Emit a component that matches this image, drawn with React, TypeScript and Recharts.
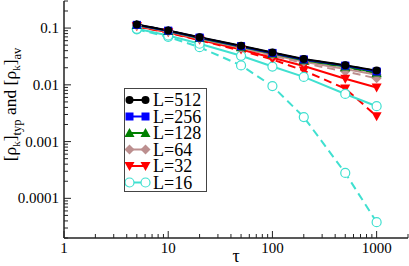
import React from 'react';
import { LineChart, Line, XAxis, YAxis, Legend } from 'recharts';

const TAU = [5, 10, 20, 50, 100, 200, 500, 1000];

const L512_TYP = [0.116, 0.091, 0.069, 0.049, 0.037, 0.0285, 0.0222, 0.0178];
const L512_AV = [0.115, 0.09, 0.068, 0.048, 0.0365, 0.028, 0.022, 0.0175];
const L256_TYP = [0.114, 0.09, 0.068, 0.048, 0.0365, 0.028, 0.0218, 0.0172];
const L256_AV = [0.113, 0.089, 0.067, 0.047, 0.036, 0.0275, 0.0213, 0.0168];
const L128_TYP = [0.113, 0.089, 0.067, 0.047, 0.0355, 0.027, 0.021, 0.0165];
const L128_AV = [0.112, 0.088, 0.066, 0.046, 0.035, 0.0265, 0.0205, 0.016];
const L64_TYP = [0.111, 0.087, 0.065, 0.045, 0.034, 0.0255, 0.019, 0.015];
const L64_AV = [0.11, 0.086, 0.064, 0.044, 0.033, 0.024, 0.0172, 0.013];
const L32_TYP = [0.108, 0.084, 0.062, 0.042, 0.03, 0.0215, 0.0128, 0.009];
const L32_AV = [0.107, 0.083, 0.061, 0.04, 0.028, 0.0178, 0.0086, 0.0028];
const L16_TYP = [0.097, 0.074, 0.053, 0.0325, 0.021, 0.0138, 0.0069, 0.0042];
const L16_AV = [0.095, 0.07, 0.046, 0.022, 0.0095, 0.0027, 0.00028, 0.000038];

const SERIES_NAMES = ['L=512', 'L=256', 'L=128', 'L=64', 'L=32', 'L=16'];

const X_MAJOR = [1, 10, 100, 1000];
const X_MINOR = [2, 3, 4, 5, 6, 7, 8, 9, 20, 30, 40, 50, 60, 70, 80, 90, 200, 300, 400, 500, 600, 700, 800, 900, 2000];
const Y_MAJOR = [0.0001, 0.001, 0.01, 0.1];
const Y_MINOR = [
  0.00002, 0.00003, 0.00004, 0.00005, 0.00006, 0.00007, 0.00008, 0.00009,
  0.0002, 0.0003, 0.0004, 0.0005, 0.0006, 0.0007, 0.0008, 0.0009,
  0.002, 0.003, 0.004, 0.005, 0.006, 0.007, 0.008, 0.009,
  0.02, 0.03, 0.04, 0.05, 0.06, 0.07, 0.08, 0.09,
  0.2, 0.3,
];

const X_DOMAIN = [1, 2000];
const Y_DOMAIN = [0.00002, 0.3];

const SERIES = [
  { key: 'L16', name: SERIES_NAMES[5], color: '#40e0d0', shape: 'open', typ: L16_TYP, av: L16_AV },
  { key: 'L32', name: SERIES_NAMES[4], color: '#ff0000', shape: 'triDown', typ: L32_TYP, av: L32_AV },
  { key: 'L64', name: SERIES_NAMES[3], color: '#bc8f8f', shape: 'diamond', typ: L64_TYP, av: L64_AV },
  { key: 'L128', name: SERIES_NAMES[2], color: '#008000', shape: 'triUp', typ: L128_TYP, av: L128_AV },
  { key: 'L256', name: SERIES_NAMES[1], color: '#0000ff', shape: 'square', typ: L256_TYP, av: L256_AV },
  { key: 'L512', name: SERIES_NAMES[0], color: '#000000', shape: 'circle', typ: L512_TYP, av: L512_AV },
];

const rows = TAU.map((t, i) => {
  const r: any = { tau: t };
  SERIES.forEach((s) => {
    r[s.key + '_typ'] = s.typ[i];
    r[s.key + '_av'] = s.av[i];
  });
  return r;
});

const FONT = 'Liberation Serif';
const TXT = { fontFamily: FONT };
const AXIS_COLOR = '#222';

function Marker({ cx, cy, shape, color }: any) {
  if (cx == null || cy == null) return null;
  switch (shape) {
    case 'circle':
      return <circle cx={cx} cy={cy} r={4} fill={color} />;
    case 'square':
      return <rect x={cx - 4} y={cy - 4} width={8} height={8} fill={color} />;
    case 'triUp':
      return <polygon points={`${cx},${cy - 5} ${cx + 5},${cy + 4} ${cx - 5},${cy + 4}`} fill={color} />;
    case 'diamond':
      return <polygon points={`${cx},${cy - 5} ${cx + 5},${cy} ${cx},${cy + 5} ${cx - 5},${cy}`} fill={color} />;
    case 'triDown':
      return <polygon points={`${cx - 5},${cy - 4} ${cx + 5},${cy - 4} ${cx},${cy + 5}`} fill={color} />;
    case 'open':
    default:
      return <circle cx={cx} cy={cy} r={4.5} fill="#fff" stroke={color} strokeWidth={1.2} />;
  }
}

const isMajor = (v: number, majors: number[]) => majors.some((m) => Math.abs(m - v) / m < 1e-6);

function BottomTick({ x, y, payload }: any) {
  const major = isMajor(payload.value, X_MAJOR);
  return (
    <g>
      <line x1={x} y1={y} x2={x} y2={y - (major ? 7 : 4)} stroke={AXIS_COLOR} strokeWidth={1} />
      {major && (
        <text x={x} y={y + 15} textAnchor="middle" style={TXT} fontSize={15} fill="#000">
          {String(payload.value)}
        </text>
      )}
    </g>
  );
}

function TopTick({ x, y, payload }: any) {
  const major = isMajor(payload.value, X_MAJOR);
  return <line x1={x} y1={y} x2={x} y2={y + (major ? 7 : 4)} stroke={AXIS_COLOR} strokeWidth={1} />;
}

function LeftTick({ x, y, payload }: any) {
  const major = isMajor(payload.value, Y_MAJOR);
  return (
    <g>
      <line x1={x} y1={y} x2={x + (major ? 7 : 4)} y2={y} stroke={AXIS_COLOR} strokeWidth={1} />
      {major && (
        <text x={x - 5} y={y + 5} textAnchor="end" style={TXT} fontSize={15} fill="#000">
          {String(payload.value)}
        </text>
      )}
    </g>
  );
}

function RightTick({ x, y, payload }: any) {
  const major = isMajor(payload.value, Y_MAJOR);
  return <line x1={x} y1={y} x2={x - (major ? 7 : 4)} y2={y} stroke={AXIS_COLOR} strokeWidth={1} />;
}

function YLabel(props: any) {
  const vb = props.viewBox || { x: 0, y: 0, width: 64, height: 237 };
  const cx = vb.x + 16;
  const cy = vb.y + vb.height / 2 - 15;
  return (
    <text
      x={cx}
      y={cy}
      transform={`rotate(-90 ${cx} ${cy})`}
      textAnchor="middle"
      style={TXT}
      fontSize={17.5}
      fill="#000"
    >
      <tspan>[ρ</tspan>
      <tspan fontSize={11} dy={4}>k</tspan>
      <tspan dy={-4}>]</tspan>
      <tspan fontSize={12.5} dy={5}>typ</tspan>
      <tspan dy={-5}> and [ρ</tspan>
      <tspan fontSize={11} dy={4}>k</tspan>
      <tspan dy={-4}>]</tspan>
      <tspan fontSize={12.5} dy={5}>av</tspan>
    </text>
  );
}

function XLabel(props: any) {
  const vb = props.viewBox || { x: 64, y: 238, width: 344, height: 28 };
  return (
    <text x={vb.x + vb.width / 2} y={vb.y + 24} textAnchor="middle" style={TXT} fontSize={18} fill="#000">
      τ
    </text>
  );
}

const LEGEND_ORDER = [...SERIES].reverse();

function LegendBox() {
  const rowH = 16.5;
  return (
    <div style={{ width: 83, height: 104, border: '1px solid #444', background: '#fff', boxSizing: 'border-box' }}>
      <svg width={81} height={102} style={{ display: 'block' }}>
        {LEGEND_ORDER.map((s, i) => {
          const cy = 11 + i * rowH;
          return (
            <g key={s.key}>
              <line x1={4} y1={cy} x2={21} y2={cy} stroke={s.color} strokeWidth={2} />
              <Marker cx={4.5} cy={cy} shape={s.shape} color={s.color} />
              <Marker cx={20.5} cy={cy} shape={s.shape} color={s.color} />
              <text x={28} y={cy + 6} style={TXT} fontSize={18} fill="#000">
                {s.name}
              </text>
            </g>
          );
        })}
      </svg>
    </div>
  );
}

export default function App() {
  return (
    <div style={{ position: 'absolute', left: 0, top: 0 }}>
      <LineChart width={409} height={266} data={rows} margin={{ top: 1, right: 1, bottom: 0, left: 0 }}>
        <XAxis
          dataKey="tau"
          type="number"
          scale="log"
          domain={X_DOMAIN}
          allowDataOverflow
          ticks={[...X_MAJOR, ...X_MINOR]}
          interval={0}
          tickSize={0}
          tickMargin={0}
          tickLine={false}
          tick={<BottomTick />}
          height={28}
          axisLine={{ stroke: AXIS_COLOR, strokeWidth: 1.5 }}
          label={{ content: <XLabel /> }}
        />
        <XAxis
          xAxisId="top"
          orientation="top"
          dataKey="tau"
          type="number"
          scale="log"
          domain={X_DOMAIN}
          allowDataOverflow
          ticks={[...X_MAJOR, ...X_MINOR]}
          interval={0}
          tickSize={0}
          tickMargin={0}
          tickLine={false}
          tick={<TopTick />}
          height={0}
          axisLine={{ stroke: AXIS_COLOR, strokeWidth: 1.5 }}
        />
        <YAxis
          type="number"
          scale="log"
          domain={Y_DOMAIN}
          allowDataOverflow
          ticks={[...Y_MAJOR, ...Y_MINOR]}
          interval={0}
          tickSize={0}
          tickMargin={0}
          tickLine={false}
          tick={<LeftTick />}
          width={64}
          axisLine={{ stroke: AXIS_COLOR, strokeWidth: 1.5 }}
          label={{ content: <YLabel /> }}
        />
        <YAxis
          yAxisId="right"
          orientation="right"
          type="number"
          scale="log"
          domain={Y_DOMAIN}
          allowDataOverflow
          ticks={[...Y_MAJOR, ...Y_MINOR]}
          interval={0}
          tickSize={0}
          tickMargin={0}
          tickLine={false}
          tick={<RightTick />}
          width={0}
          axisLine={{ stroke: AXIS_COLOR, strokeWidth: 1.5 }}
        />
        {SERIES.map((s) => (
          <Line
            key={s.key + '_av'}
            dataKey={s.key + '_av'}
            stroke={s.color}
            strokeWidth={2}
            strokeDasharray="8 5"
            isAnimationActive={false}
            dot={(p: any) => <Marker key={`${s.key}av${p.index}`} cx={p.cx} cy={p.cy} shape={s.shape} color={s.color} />}
            activeDot={false}
            legendType="none"
          />
        ))}
        {SERIES.map((s) => (
          <Line
            key={s.key + '_typ'}
            dataKey={s.key + '_typ'}
            name={s.name}
            stroke={s.color}
            strokeWidth={2}
            isAnimationActive={false}
            dot={(p: any) => <Marker key={`${s.key}typ${p.index}`} cx={p.cx} cy={p.cy} shape={s.shape} color={s.color} />}
            activeDot={false}
          />
        ))}
        <Legend
          layout="horizontal"
          verticalAlign="middle"
          align="center"
          content={() => <LegendBox />}
          wrapperStyle={{ left: 124, top: 88, width: 83, height: 104 }}
        />
      </LineChart>
    </div>
  );
}
